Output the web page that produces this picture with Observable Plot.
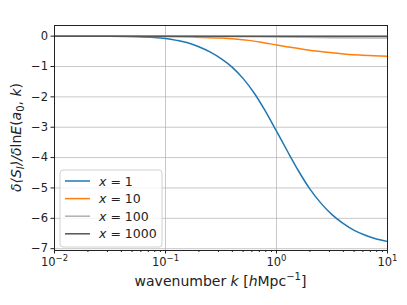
<!DOCTYPE html>
<html><head><meta charset="utf-8">
<script src="https://cdn.jsdelivr.net/npm/d3@7"></script>
<script src="https://cdn.jsdelivr.net/npm/@observablehq/plot@0.6"></script>
<style>
html,body{margin:0;padding:0;background:#fff;}
svg{font-family:"DejaVu Sans",sans-serif;}
</style></head>
<body><div id="chart"></div>
<script>
// log10(k) sample positions and values
const logk1 = [-2.0,-1.5,-1.25,-1.1,-1.0,-0.9,-0.8,-0.7,-0.6,-0.5,-0.4,-0.3,-0.2,-0.1,0,0.1,0.2,0.3,0.4,0.5,0.6,0.7,0.8,0.9,1.0];
const val1  = [-0.0005,-0.007,-0.02,-0.045,-0.08,-0.14,-0.22,-0.35,-0.52,-0.74,-1.02,-1.4,-1.88,-2.47,-3.13,-3.8,-4.45,-5.03,-5.5,-5.88,-6.17,-6.4,-6.56,-6.68,-6.76];
const logk10 = [-2.0,-1.5,-1.25,-1.0,-0.75,-0.5,-0.375,-0.25,-0.125,0,0.125,0.25,0.375,0.5,0.625,0.75,0.875,1.0];
const val10  = [0,-0.004,-0.008,-0.015,-0.032,-0.065,-0.095,-0.14,-0.21,-0.29,-0.37,-0.44,-0.5,-0.55,-0.595,-0.625,-0.645,-0.66];
const logk100 = [-2.0,-1.0,0,0.5,1.0];
const val100  = [0,-0.002,-0.03,-0.05,-0.065];
const logk1000 = [-2.0,0,1.0];
const val1000  = [0,-0.003,-0.008];

const seriesLabels = ["1","10","100","1000"];
const seriesColors = ["#1f77b4","#ff7f0e","#b0b0b0","#555555"];
const yTicks = [0,-1,-2,-3,-4,-5,-6,-7];
const xTicks = [0.01,0.1,1,10];
const xTickExp = ["\u22122","\u22121","0","1"];

const series = [[logk1,val1],[logk10,val10],[logk100,val100],[logk1000,val1000]];
const rows = series.flatMap(([lk,v],i) => lk.map((l,j)=>({k:Math.pow(10,l), v:v[j], s:seriesLabels[i]})));
const minor = xTicks.slice(0,-1).flatMap(d => d3.range(2,10).map(m => m*d));

const W=407,H=305, mL=54, mR=20, mT=25, mB=55;
const plot = Plot.plot({
  width:W, height:H, marginLeft:mL, marginRight:mR, marginTop:mT, marginBottom:mB,
  style:{fontFamily:"DejaVu Sans, sans-serif", fontSize:"11px", color:"#222", background:"#fff"},
  x:{type:"log", domain:[0.01,10]},
  y:{domain:[-7.06,0.35]},
  color:{domain:seriesLabels, range:seriesColors},
  marks:[
    Plot.gridY(yTicks, {stroke:"#b0b0b0", strokeOpacity:0.7, strokeWidth:1}),
    Plot.gridX([0.1,1], {stroke:"#b0b0b0", strokeOpacity:0.7, strokeWidth:1}),
    Plot.line(rows, {x:"k", y:"v", z:"s", stroke:"s", strokeWidth:1.5, curve:"monotone-x"}),
    Plot.frame({stroke:"#222", strokeWidth:1}),
    Plot.axisY(yTicks, {tickSize:3.5, tickPadding:3, label:null, stroke:"#222",
      tickFormat:d => d===0 ? "0" : "\u2212"+Math.abs(d)}),
    Plot.axisX(xTicks, {tickSize:3.5, tickPadding:4, label:null, stroke:"#222",
      tickFormat:d => "10|"+xTickExp[xTicks.indexOf(d)]}),
    Plot.axisX(minor, {tickSize:2, label:null, text:null, stroke:"#222"})
  ]
});
document.getElementById("chart").appendChild(plot);

const svg = d3.select(plot);
// tick label styling
svg.selectAll("g[aria-label='y-axis tick label'] text").attr("font-size",11.5);
svg.selectAll("g[aria-label='x-axis tick label'] text").each(function(){
  const el = d3.select(this);
  const [base, exp] = el.text().split("|");
  el.text("").attr("font-size",11.5);
  el.append("tspan").text(base);
  el.append("tspan").text(exp).attr("font-size",8.5).attr("dy",-5);
});
// y label
const yl = svg.append("text").attr("transform",`translate(21,${(mT+H-mB)/2}) rotate(-90)`)
  .attr("text-anchor","middle").attr("font-size",14).attr("fill","#222");
const parts = [["δ⟨",1,0],["S",1,0],["I",1,1],["⟩/δ",1,0],["ln",0,0],["E",1,0],["(",0,0],["a",1,0],["0",0,1],[", ",0,0],["k",1,0],[")",0,0]];
let sub=false;
parts.forEach(([t,it,s])=>{
  const ts = yl.append("tspan").text(t).attr("font-style", it?"italic":"normal");
  if(s){ts.attr("font-size",10).attr("dy",3); sub=true;}
  else if(sub){ts.attr("dy",-3); sub=false;}
});
// x label
const xl = svg.append("text").attr("x",(mL+W-mR)/2).attr("y",286)
  .attr("text-anchor","middle").attr("font-size",14).attr("fill","#222");
xl.append("tspan").text("wavenumber ");
xl.append("tspan").text("k").attr("font-style","italic");
xl.append("tspan").text(" [");
xl.append("tspan").text("h").attr("font-style","italic");
xl.append("tspan").text("Mpc");
xl.append("tspan").text("\u22121").attr("font-size",10).attr("dy",-6);
xl.append("tspan").text("]").attr("dy",6);

// legend
const lg = svg.append("g").attr("text-anchor","start");
lg.append("rect").attr("x",60).attr("y",170).attr("width",102).attr("height",77).attr("rx",3)
  .attr("fill","#fff").attr("fill-opacity",0.8).attr("stroke","#d0d0d0");
seriesLabels.forEach((s,i)=>{
  const y = 181 + i*17.6;
  lg.append("line").attr("x1",65).attr("x2",90).attr("y1",y).attr("y2",y)
    .attr("stroke",seriesColors[i]).attr("stroke-width",1.5);
  const t = lg.append("text").attr("x",99).attr("y",y+4.5).attr("font-size",12.5).attr("fill","#222");
  t.append("tspan").text("x").attr("font-style","italic");
  t.append("tspan").text(" = "+s);
});
</script></body></html>
